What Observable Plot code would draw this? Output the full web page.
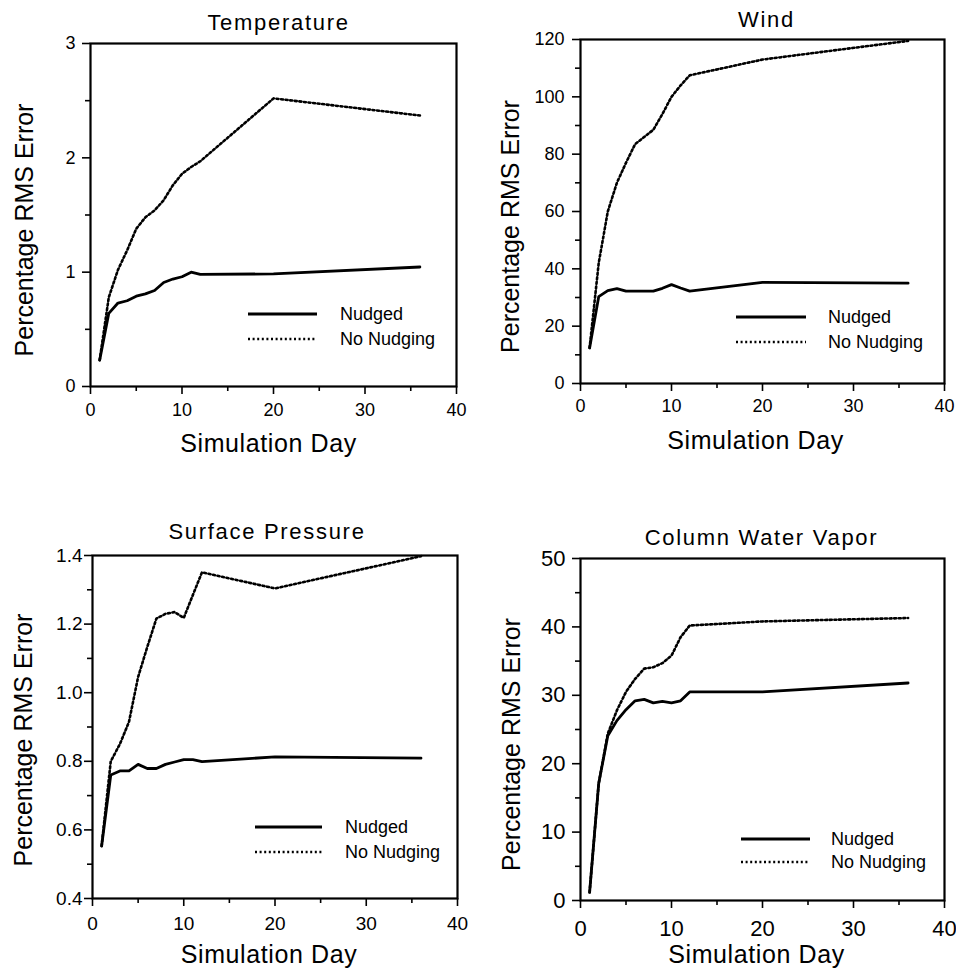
<!DOCTYPE html>
<html>
<head>
<meta charset="utf-8">
<script src="https://cdn.jsdelivr.net/npm/d3@7"></script>
<script src="https://cdn.jsdelivr.net/npm/@observablehq/plot@0.6"></script>
<style>
  body { margin: 0; background: #fff; }
  #wrap { position: relative; width: 956px; height: 968px; overflow: hidden; background: #fff; }
  .panel { position: absolute; }
</style>
</head>
<body>
<div id="wrap"></div>
<script>
// ---------- DATA ----------
const days = [1, 2, 3, 4, 5, 6, 7, 8, 9, 10, 11, 12, 20, 36];
const xTicks = [0, 10, 20, 30, 40];
const xMinorTicks = [5, 15, 25, 35];

const titles = ["Temperature", "Wind", "Surface Pressure", "Column Water Vapor"];
const yLabel = "Percentage RMS Error";
const xLabel = "Simulation Day";
const legendLabels = ["Nudged", "No Nudging"];

const tempNudged    = [0.23, 0.64, 0.73, 0.75, 0.79, 0.81, 0.84, 0.91, 0.94, 0.96, 1.00, 0.98, 0.985, 1.045];
const tempNoNudging = [0.23, 0.78, 1.02, 1.19, 1.38, 1.48, 1.54, 1.63, 1.76, 1.86, 1.92, 1.97, 2.52, 2.37];
const tempYTicks = [0, 1, 2, 3];
const tempYMinor = [0.5, 1.5, 2.5];

const windNudged    = [12.4, 30.3, 32.4, 33.1, 32.2, 32.2, 32.2, 32.2, 33.2, 34.5, 33.3, 32.2, 35.3, 35.0];
const windNoNudging = [12.4, 42, 60, 70, 77, 83.5, 86, 88.5, 94, 100, 104, 107.5, 113, 119.5];
const windYTicks = [0, 20, 40, 60, 80, 100, 120];
const windYMinor = [10, 30, 50, 70, 90, 110];

const presNudged    = [0.553, 0.760, 0.772, 0.772, 0.791, 0.779, 0.779, 0.791, 0.798, 0.805, 0.805, 0.799, 0.813, 0.809];
const presNoNudging = [0.553, 0.800, 0.850, 0.915, 1.046, 1.133, 1.216, 1.230, 1.235, 1.218, 1.285, 1.351, 1.304, 1.398];
const presYTicks = [0.4, 0.6, 0.8, 1.0, 1.2, 1.4];
const presYMinor = [0.5, 0.7, 0.9, 1.1, 1.3];

const cwvNudged    = [1.2, 17.1, 24.1, 26.3, 27.9, 29.2, 29.4, 28.9, 29.1, 28.9, 29.2, 30.5, 30.5, 31.8];
const cwvNoNudging = [1.2, 17.1, 24.4, 27.8, 30.5, 32.4, 33.9, 34.1, 34.7, 35.8, 38.5, 40.2, 40.8, 41.3];
const cwvYTicks = [0, 10, 20, 30, 40, 50];
const cwvYMinor = [5, 15, 25, 35, 45];

// ---------- LAYOUT / STYLE ----------
const FONT = "'Liberation Sans', Arial, Helvetica, sans-serif";
const DOT = "2,2.6";

const panels = [
  { title: titles[0], nudged: tempNudged, noNudging: tempNoNudging, domain: [0, 3],
    yTicks: tempYTicks, yMinor: tempYMinor, fmt: d3.format("d") },
  { title: titles[1], nudged: windNudged, noNudging: windNoNudging, domain: [0, 120],
    yTicks: windYTicks, yMinor: windYMinor, fmt: d3.format("d") },
  { title: titles[2], nudged: presNudged, noNudging: presNoNudging, domain: [0.4, 1.4],
    yTicks: presYTicks, yMinor: presYMinor, fmt: d3.format(".1f") },
  { title: titles[3], nudged: cwvNudged, noNudging: cwvNoNudging, domain: [0, 50],
    yTicks: cwvYTicks, yMinor: cwvYMinor, fmt: d3.format("d") }
];

const layouts = [
  { left: 0, top: 0, m: [43, 22, 98, 90], tick: 18, ypad: 7, xpad: 9,
    title: [5, -21], ylab: [-66, 15], xlab: [-5, 57], leg: { x1: 248, x2: 317, y: 314, tx: 340, gap: 25 } },
  { left: 478, top: 0, m: [39, 12, 101, 102], tick: 18, ypad: 8, xpad: 8,
    title: [4, -20], ylab: [-70, 15], xlab: [-7, 57], leg: { x1: 258, x2: 328, y: 317, tx: 350, gap: 25 } },
  { left: 0, top: 484, m: [71, 21, 70, 92], tick: 19, ypad: 2, xpad: 10,
    title: [-8, -24], ylab: [-69, 13], xlab: [-6, 56], leg: { x1: 255, x2: 322, y: 343, tx: 345, gap: 25 } },
  { left: 478, top: 484, m: [74, 12, 68, 102], tick: 22, ypad: 7, xpad: 12,
    title: [-1, -21], ylab: [-69, 15], xlab: [-6, 54], leg: { x1: 263, x2: 332, y: 355, tx: 353, gap: 23 } }
];

const wrap = document.getElementById("wrap");

panels.forEach((cfg, k) => {
  const L = layouts[k];
  const nud = days.map((d, i) => ({ day: d, v: cfg.nudged[i] }));
  const nonud = days.map((d, i) => ({ day: d, v: cfg.noNudging[i] }));

  const svg = Plot.plot({
    width: 478,
    height: 484,
    marginTop: L.m[0], marginRight: L.m[1], marginBottom: L.m[2], marginLeft: L.m[3],
    style: { fontFamily: FONT, fontSize: L.tick + "px", color: "#000", background: "transparent", overflow: "visible" },
    x: { domain: [0, 40] },
    y: { domain: cfg.domain },
    marks: [
      Plot.axisX({ ticks: xTicks, tickSize: 8, tickPadding: L.xpad, label: null, strokeWidth: 1.6, tickFormat: d3.format("d") }),
      Plot.axisX({ ticks: xMinorTicks, tickSize: 5, label: null, strokeWidth: 1.6, tickFormat: () => "" }),
      Plot.axisY({ ticks: cfg.yTicks, tickSize: 8, tickPadding: L.ypad, label: null, strokeWidth: 1.6, tickFormat: cfg.fmt }),
      Plot.axisY({ ticks: cfg.yMinor, tickSize: 5, label: null, strokeWidth: 1.6, tickFormat: () => "" }),
      Plot.frame({ stroke: "#000", strokeWidth: 2.2 }),
      Plot.line(nonud, { x: "day", y: "v", stroke: "#000", strokeWidth: 2.6, strokeDasharray: DOT }),
      Plot.line(nud, { x: "day", y: "v", stroke: "#000", strokeWidth: 2.8 }),
      Plot.text([cfg.title], { text: d => d, frameAnchor: "top", textAnchor: "middle", lineAnchor: "middle",
        dx: L.title[0], dy: L.title[1], fontSize: 22, fill: "#000" }),
      Plot.text([yLabel], { text: d => d, frameAnchor: "left", textAnchor: "middle", lineAnchor: "middle", rotate: -90,
        dx: L.ylab[0], dy: L.ylab[1], fontSize: 25, fill: "#000" }),
      Plot.text([xLabel], { text: d => d, frameAnchor: "bottom", textAnchor: "middle", lineAnchor: "middle",
        dx: L.xlab[0], dy: L.xlab[1], fontSize: 25, fill: "#000" })
    ]
  });

  d3.select(svg).selectAll("text").each(function () {
    if (this.textContent === cfg.title) this.style.letterSpacing = "1.7px";
    if (this.textContent === xLabel) this.style.letterSpacing = "0.6px";
  });

  // legend
  const g = d3.select(svg).append("g")
    .attr("font-family", FONT).attr("font-size", 18).attr("text-anchor", "start");
  legendLabels.forEach((lab, i) => {
    const y = L.leg.y + i * L.leg.gap;
    g.append("line")
      .attr("x1", L.leg.x1).attr("x2", L.leg.x2).attr("y1", y).attr("y2", y)
      .attr("stroke", "#000")
      .attr("stroke-width", i === 0 ? 2.8 : 2.6)
      .attr("stroke-dasharray", i === 0 ? null : DOT);
    g.append("text").attr("x", L.leg.tx).attr("y", y).attr("dy", "0.35em")
      .attr("fill", "#000").attr("text-anchor", "start").text(lab);
  });

  const div = document.createElement("div");
  div.className = "panel";
  div.style.left = L.left + "px";
  div.style.top = L.top + "px";
  div.appendChild(svg);
  wrap.appendChild(div);
});
</script>
</body>
</html>
